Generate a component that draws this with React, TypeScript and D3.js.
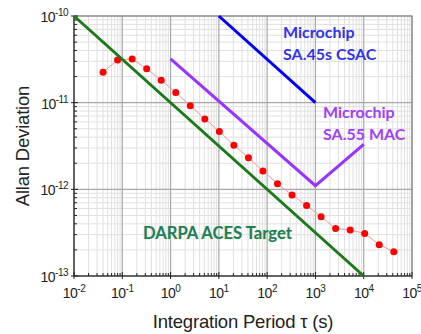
import * as d3 from 'd3';
import React from 'react';

// measured data (tau in s, Allan deviation)
const measTau = [0.04, 0.08, 0.16, 0.32, 0.64, 1.28, 2.56, 5.12, 10.24, 20.48, 40.96, 81.92, 163.84, 327.68, 655.36, 1310.72, 2621.44, 5242.88, 10485.76, 20971.52, 41943.04];
const measAdev = [2.25e-11, 3.1e-11, 3.2e-11, 2.46e-11, 1.82e-11, 1.31e-11, 9.2e-12, 6.5e-12, 4.65e-12, 3.23e-12, 2.32e-12, 1.63e-12, 1.16e-12, 8.6e-13, 6.5e-13, 4.83e-13, 3.54e-13, 3.39e-13, 3.1e-13, 2.3e-13, 1.9e-13];

const acesTau = [0.01, 10000];
const acesAdev = [1e-10, 1e-13];
const csacTau = [10, 1000];
const csacAdev = [1e-10, 1e-11];
const macTau = [1, 1000, 10000];
const macAdev = [3.2e-11, 1.1e-12, 3.3e-12];

const xDecades = [-2, -1, 0, 1, 2, 3, 4, 5];
const yDecades = [-13, -12, -11, -10];

export default function App() {
  const w = 421;
  const h = 334;
  const left = 74;
  const right = 412;
  const top = 16;
  const bottom = 276;

  const x = d3.scaleLog().domain([1e-2, 1e5]).range([left, right]);
  const y = d3.scaleLog().domain([1e-13, 1e-10]).range([bottom, top]);

  const line = d3
    .line<[number, number]>()
    .x((d) => x(d[0]))
    .y((d) => y(d[1]));

  const minorX: number[] = [];
  for (let e = -2; e < 5; e++) {
    for (let m = 2; m < 10; m++) minorX.push(m * Math.pow(10, e));
  }
  const minorY: number[] = [];
  for (let e = -13; e < -10; e++) {
    for (let m = 2; m < 10; m++) minorY.push(m * Math.pow(10, e));
  }

  const pairs = (a: number[], b: number[]) => a.map((v, i) => [v, b[i]] as [number, number]);
  const tickFont = { fontFamily: '"Liberation Sans", Arial, sans-serif', fontSize: 14, letterSpacing: -0.5 };
  const titleFont = { fontFamily: '"Liberation Sans", Arial, sans-serif', fontSize: 18.5, letterSpacing: -0.2 };
  const noteFont = { fontFamily: 'Lato, "Open Sans", sans-serif', fontSize: 16, fontWeight: 700 };

  return (
    <svg width={w} height={h} style={{ position: 'absolute', left: 0, top: 0, background: 'white' }}>
      {/* grid */}
      <g>
        {minorX.map((v, i) => (
          <line key={'mx' + i} x1={x(v)} x2={x(v)} y1={top} y2={bottom} stroke='#e0e0e0' strokeWidth={1} />
        ))}
        {minorY.map((v, i) => (
          <line key={'my' + i} x1={left} x2={right} y1={y(v)} y2={y(v)} stroke='#e0e0e0' strokeWidth={1} />
        ))}
        {xDecades.map((e) => (
          <line key={'gx' + e} x1={x(Math.pow(10, e))} x2={x(Math.pow(10, e))} y1={top} y2={bottom} stroke='#a8a8a8' strokeWidth={1.2} />
        ))}
        {yDecades.map((e) => (
          <line key={'gy' + e} x1={left} x2={right} y1={y(Math.pow(10, e))} y2={y(Math.pow(10, e))} stroke='#a8a8a8' strokeWidth={1.2} />
        ))}
        <rect x={left} y={top} width={right - left} height={bottom - top} fill='none' stroke='#8a8a8a' strokeWidth={1.2} />
      </g>

      {/* axes */}
      <g stroke='#222' strokeWidth={1}>
        <line x1={left} x2={left} y1={top} y2={bottom} />
        <line x1={left} x2={right} y1={bottom} y2={bottom} />
        {minorX.map((v, i) => (
          <line key={'tx' + i} x1={x(v)} x2={x(v)} y1={bottom} y2={bottom - 3} />
        ))}
        {minorY.map((v, i) => (
          <line key={'ty' + i} x1={left} x2={left + 3} y1={y(v)} y2={y(v)} />
        ))}
        {xDecades.map((e) => (
          <line key={'Tx' + e} x1={x(Math.pow(10, e))} x2={x(Math.pow(10, e))} y1={bottom + 3} y2={bottom - 4} />
        ))}
        {yDecades.map((e) => (
          <line key={'Ty' + e} x1={left - 3} x2={left + 4} y1={y(Math.pow(10, e))} y2={y(Math.pow(10, e))} />
        ))}
      </g>

      {/* tick labels */}
      <g style={tickFont} fill='#222'>
        {xDecades.map((e) => (
          <text key={'lx' + e} x={x(Math.pow(10, e))} y={bottom + 22} textAnchor='middle'>
            10<tspan dy={-6} fontSize={10}>{e}</tspan>
          </text>
        ))}
        {yDecades.map((e) => (
          <text key={'ly' + e} x={left - 6} y={y(Math.pow(10, e)) + 6} textAnchor='end'>
            10<tspan dy={-6} fontSize={10}>{e}</tspan>
          </text>
        ))}
      </g>

      {/* axis titles */}
      <text x={243} y={328} textAnchor='middle' style={titleFont} fill='#222'>
        Integration Period τ (s)
      </text>
      <text transform={`translate(29, ${(top + bottom) / 2}) rotate(-90)`} textAnchor='middle' style={titleFont} fill='#222'>
        Allan Deviation
      </text>

      {/* series */}
      <path d={line(pairs(measTau, measAdev)) ?? ''} fill='none' stroke='#f59a9a' strokeWidth={1} />
      {measTau.map((t, i) => (
        <circle key={'p' + i} cx={x(t)} cy={y(measAdev[i])} r={3.5} fill='#ff0000' />
      ))}
      <path d={line(pairs(csacTau, csacAdev)) ?? ''} fill='none' stroke='#0000ff' strokeWidth={3} />
      <path d={line(pairs(macTau, macAdev)) ?? ''} fill='none' stroke='#9933ff' strokeWidth={3} />
      <path d={line(pairs(acesTau, acesAdev)) ?? ''} fill='none' stroke='#1a7a1a' strokeWidth={3} />

      {/* annotations */}
      <g style={noteFont}>
        <text x={283} y={38} fill='#3333ee'>Microchip</text>
        <text x={283} y={60} fill='#3333ee'>SA.45s CSAC</text>
        <text x={323} y={118} fill='#a040ff'>Microchip</text>
        <text x={323} y={140} fill='#a040ff'>SA.55 MAC</text>
        <text x={143} y={239} fontSize={16.6} fill='#17806a' stroke='#e8e070' strokeWidth={0.6} style={{ paintOrder: 'stroke' }}>
          DARPA ACES Target
        </text>
      </g>
    </svg>
  );
}
